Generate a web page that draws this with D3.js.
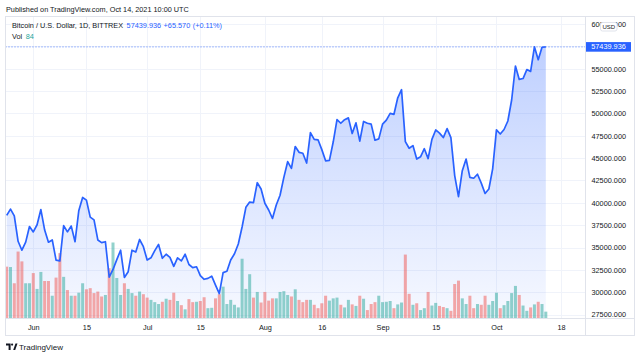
<!DOCTYPE html>
<html><head><meta charset="utf-8">
<script src="https://cdn.jsdelivr.net/npm/d3@7"></script>
<style>
body{margin:0;background:#fff;}
svg{display:block;font-family:"Liberation Sans",Arial,sans-serif;}
</style>
</head><body>
<svg id="c" width="640" height="358"></svg>
<script>
// ---------------- DATA ----------------
const startDay = "2021-05-25";
const endDay = "2021-10-14";
const closes = [
  38600, 39300, 38550, 35700, 34700, 35600, 37350,
  36750, 37550, 39250, 36950, 35600, 35850, 33600, 33500, 37450, 36750,
  37400, 35650, 39150, 40600, 40300, 38400, 38100, 35850, 35550, 35650,
  31700, 32550, 33650, 34700, 31650, 32300, 34700, 34500, 35900, 35100,
  33600, 33850, 34650, 35350, 33800, 34250, 33900, 32900, 33850, 33500,
  34250, 33100, 32750, 32850, 31850, 31450, 31550, 31800, 30800, 29850,
  32200, 32350, 33600, 34300, 35400, 37300, 39500, 40080, 40020, 42250, 41550,
  39950, 39200, 38250, 39750, 40850, 42850, 44600, 43850, 46300, 45650,
  45550, 44450, 47850, 47100, 47050, 45950, 44700, 44750, 46800, 49300,
  48900, 49300, 49500, 47750, 48950, 46900, 49100, 48900, 48800, 47000, 47150,
  48800, 49250, 50000, 49900, 51750, 52650, 46850, 46100, 46400, 44900,
  45150, 46050, 44950, 47100, 48150, 47800, 47300, 48300, 47300, 43050,
  40700, 43600, 44900, 42850, 42750, 43200, 42200, 41050, 41550, 43800,
  48150, 47700, 48200, 49150, 51500, 55300, 53800, 53900, 54900, 54700,
  57450, 56000, 57400, 57439.936
];
const volumes = [
  680, 675, 460, 880, 750, 460, 460,
  595, 385, 610, 490, 490, 295, 535, 860, 545, 370,
  295, 295, 335, 460, 380, 395, 330, 350, 285, 305,
  660, 1000, 530, 305, 460, 385, 330, 295, 350, 315,
  270, 240, 210, 185, 215, 255, 240, 335, 225, 170,
  115, 250, 210, 215, 225, 275, 130, 135, 260, 315,
  415, 185, 240, 175, 140, 785, 385, 580, 270, 345, 205,
  345, 230, 260, 260, 345, 355, 305, 285, 380, 240,
  210, 240, 240, 175, 130, 195, 295, 230, 260, 270,
  175, 140, 240, 180, 160, 295, 255, 105, 185, 210, 295,
  210, 215, 225, 130, 180, 205, 840, 320, 175, 195,
  105, 130, 345, 165, 200, 160, 145, 130, 95, 450,
  495, 260, 185, 295, 130, 185, 175, 295, 175, 225,
  335, 130, 170, 225, 330, 425, 305, 165, 95, 140,
  180, 215, 185, 84
];
const firstOpen = 38900;
const priceTicks = [27500, 30000, 32500, 35000, 37500, 40000, 42500, 45000, 47500, 50000, 52500, 55000, 57500, 60000];
const priceTickLabels = ["27500.000","30000.000","32500.000","35000.000","37500.000","40000.000","42500.000","45000.000","47500.000","50000.000","52500.000","55000.000","57500.000","60000.000"];
const timeTicks = ["2021-06-01","2021-06-15","2021-07-01","2021-07-15","2021-08-01","2021-08-16","2021-09-01","2021-09-15","2021-10-01","2021-10-18"];
const timeTickLabels = ["Jun","15","Jul","15","Aug","16","Sep","15","Oct","18"];
const lastPrice = 57439.936;
const lastPriceLabel = "57439.936";
const changeLabel = "+65.570";
const changePctLabel = "(+0.11%)";
const lastVolLabel = "84";

// ---------------- SETUP ----------------
const parse = d3.utcParse("%Y-%m-%d");
const dates = d3.utcDay.range(parse(startDay), d3.utcDay.offset(parse(endDay), 1));
const data = dates.map((d, i) => ({
  date: d, close: closes[i], vol: volumes[i],
  up: closes[i] >= (i === 0 ? firstOpen : closes[i - 1])
}));

const P = {left: 5.5, top: 16.5, right: 585.5, bottom: 318, axisBottom: 335.5, outerRight: 634.5};
const TEXT = "#131722", GRID = "#f0f3fa", BORDER = "#e0e3eb", BLUE = "#2962ff";
const FS = 7.3;

const x = d3.scaleUtc().domain([parse("2021-05-25"), parse("2021-10-18")]).range([6.7, 561.0]);
const y = d3.scaleLinear().domain([27500, 60000]).range([314.6, 24.0]);
const yv = d3.scaleLinear().domain([0, 4000]).range([P.bottom, 16]);

const svg = d3.select("#c");
const defs = svg.append("defs");
defs.append("clipPath").attr("id", "plotclip").append("rect")
  .attr("x", P.left).attr("y", P.top).attr("width", P.right - P.left).attr("height", P.bottom - P.top);
const grad = defs.append("linearGradient").attr("id", "areagrad")
  .attr("gradientUnits", "userSpaceOnUse").attr("x1", 0).attr("x2", 0)
  .attr("y1", y(d3.max(closes))).attr("y2", P.bottom);
grad.append("stop").attr("offset", 0).attr("stop-color", BLUE).attr("stop-opacity", 0.3);
grad.append("stop").attr("offset", 1).attr("stop-color", BLUE).attr("stop-opacity", 0.04);

// header
svg.append("text").attr("x", 6).attr("y", 11.5).attr("font-size", FS).attr("fill", TEXT)
  .text("Published on TradingView.com, Oct 14, 2021 10:00 UTC");

// grid
const plot = svg.append("g").attr("clip-path", "url(#plotclip)");
plot.selectAll("line.hg").data(priceTicks).join("line").attr("class", "hg")
  .attr("x1", P.left).attr("x2", P.right)
  .attr("y1", d => Math.round(y(d)) + 0.5).attr("y2", d => Math.round(y(d)) + 0.5)
  .attr("stroke", GRID).attr("stroke-width", 1);
plot.selectAll("line.vg").data(timeTicks).join("line").attr("class", "vg")
  .attr("y1", P.top).attr("y2", P.bottom)
  .attr("x1", d => Math.round(x(parse(d))) + 0.5).attr("x2", d => Math.round(x(parse(d))) + 0.5)
  .attr("stroke", GRID).attr("stroke-width", 1);

// area
const area = d3.area().x(d => x(d.date)).y0(P.bottom).y1(d => y(d.close));
plot.append("path").datum(data).attr("d", area).attr("fill", "url(#areagrad)");

// volume
const bw = 3.0;
plot.selectAll("rect.vol").data(data).join("rect").attr("class", "vol")
  .attr("x", d => x(d.date) - bw / 2).attr("width", bw)
  .attr("y", d => yv(d.vol)).attr("height", d => P.bottom - yv(d.vol))
  .attr("fill", d => d.up ? "#26a69a" : "#ef5350").attr("fill-opacity", 0.5);

// last price dotted line
plot.append("line").attr("x1", P.left).attr("x2", P.right)
  .attr("y1", y(lastPrice)).attr("y2", y(lastPrice))
  .attr("stroke", BLUE).attr("stroke-width", 1).attr("stroke-dasharray", "1,2").attr("opacity", 0.8);

// price line
const line = d3.line().x(d => x(d.date)).y(d => y(d.close));
plot.append("path").datum(data).attr("d", line).attr("fill", "none")
  .attr("stroke", BLUE).attr("stroke-width", 1.7).attr("stroke-linejoin", "round");

// borders
svg.append("rect").attr("x", P.left).attr("y", P.top).attr("width", P.outerRight - P.left)
  .attr("height", P.axisBottom - P.top).attr("fill", "none").attr("stroke", BORDER);
svg.append("line").attr("x1", P.left).attr("x2", P.outerRight).attr("y1", P.bottom + 0.5).attr("y2", P.bottom + 0.5)
  .attr("stroke", BORDER);
svg.append("line").attr("x1", P.right).attr("x2", P.right).attr("y1", P.top).attr("y2", P.axisBottom)
  .attr("stroke", BORDER);

// price axis
const yAxis = d3.axisRight(y).tickValues(priceTicks).tickSize(0).tickPadding(6)
  .tickFormat((d, i) => priceTickLabels[i]);
const gy = svg.append("g").attr("transform", `translate(${P.right},0)`).call(yAxis);
gy.select(".domain").remove();
gy.selectAll("text").attr("font-size", FS).attr("fill", TEXT).attr("font-family", null);

// time axis
const xAxis = d3.axisBottom(x).tickValues(timeTicks.map(parse)).tickSize(0).tickPadding(6)
  .tickFormat((d, i) => timeTickLabels[i]);
const gx = svg.append("g").attr("transform", `translate(0,${P.bottom + 0.5})`).call(xAxis);
gx.select(".domain").remove();
gx.selectAll("text").attr("font-size", FS).attr("fill", TEXT).attr("font-family", null);

// last price label
const ly = y(lastPrice);
svg.append("rect").attr("x", 586).attr("y", ly - 4.8).attr("width", 45).attr("height", 9.6).attr("fill", BLUE);
svg.append("text").attr("x", 608.5).attr("y", ly).attr("dy", "0.35em").attr("text-anchor", "middle")
  .attr("font-size", FS).attr("fill", "#fff").text(lastPriceLabel);

// USD box (drawn over the 60000 label, as in the original)
svg.append("rect").attr("x", 600.5).attr("y", 22.5).attr("width", 16.5).attr("height", 8.5).attr("rx", 2)
  .attr("fill", "#fff").attr("stroke", BORDER);
svg.append("text").attr("x", 608.75).attr("y", 26.9).attr("dy", "0.35em").attr("text-anchor", "middle")
  .attr("font-size", 6).attr("fill", TEXT).text("USD");

// legend
const leg = svg.append("g").attr("font-size", FS);
const t1 = leg.append("text").attr("x", 12).attr("y", 27.5).attr("fill", TEXT);
t1.append("tspan").text("Bitcoin / U.S. Dollar, 1D, BITTREX");
t1.append("tspan").attr("dx", 3.5).attr("fill", BLUE).text(lastPriceLabel);
t1.append("tspan").attr("dx", 2.5).attr("fill", BLUE).text(changeLabel);
t1.append("tspan").attr("dx", 2.5).attr("fill", BLUE).text(changePctLabel);
const t2 = leg.append("text").attr("x", 12).attr("y", 38.5).attr("fill", TEXT);
t2.append("tspan").text("Vol");
t2.append("tspan").attr("dx", 3.5).attr("fill", "#26a69a").text(lastVolLabel);

// footer logo
const logo = svg.append("g").attr("fill", TEXT);
logo.append("path").attr("d", "M6,343.5 h4.6 v6.5 h-2 v-4.6 h-2.6 z");
logo.append("circle").attr("cx", 12.1).attr("cy", 344.6).attr("r", 1.1);
logo.append("path").attr("d", "M13.2,350 l2.3,-6.5 h2 l-2.3,6.5 z");
svg.append("text").attr("x", 19).attr("y", 350).attr("font-size", 8).attr("fill", TEXT).text("TradingView");
</script>
</body></html>
